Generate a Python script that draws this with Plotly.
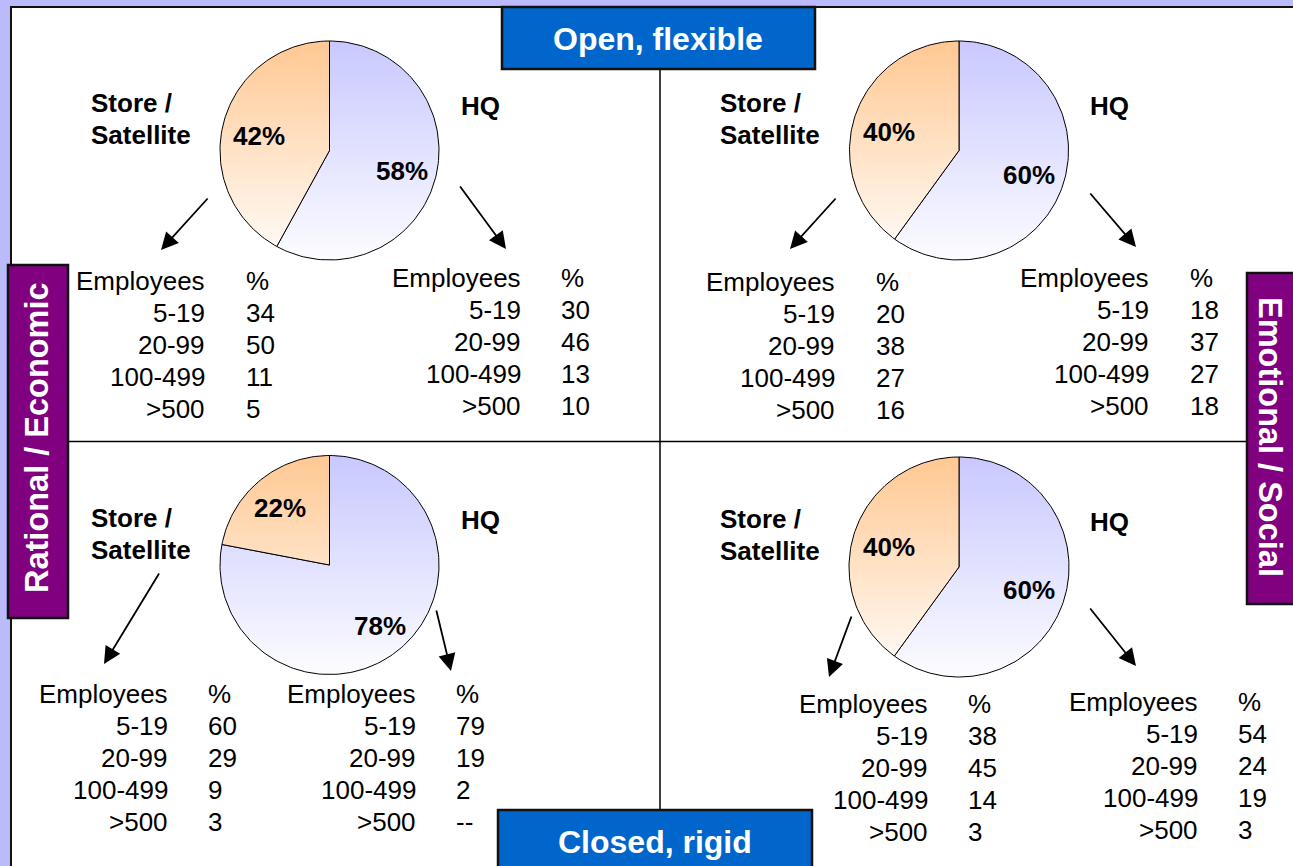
import numpy as np
import plotly.graph_objects as go

W, H = 1293, 866
FONT = "Liberation Sans, Arial, sans-serif"

# Share of respondents by location (HQ vs store / satellite) in each quadrant
quadrant_names = ["Open / Rational", "Open / Emotional", "Closed / Rational", "Closed / Emotional"]
hq_share = [58, 60, 78, 60]
store_share = [42, 40, 22, 40]

# Company size bands and % distribution per location
size_bands = ["5-19", "20-99", "100-499", ">500"]
store_tl = [34, 50, 11, 5]
hq_tl = [30, 46, 13, 10]
store_tr = [20, 38, 27, 16]
hq_tr = [18, 37, 27, 18]
store_bl = [60, 29, 9, 3]
hq_bl = [79, 19, 2, "--"]
store_br = [38, 45, 14, 3]
hq_br = [54, 24, 19, 3]

axis_top = "Open, flexible"
axis_bottom = "Closed, rigid"
axis_left = "Rational / Economic"
axis_right = "Emotional / Social"

store_tables = [store_tl, store_tr, store_bl, store_br]
hq_tables = [hq_tl, hq_tr, hq_bl, hq_br]

# Placement of each quadrant's elements (pixel space)
layout_q = [
    dict(c=(329.5, 150.5), r=109.5, lab_store=(-71, -15), lab_hq=(72, 20),
         store_txt=(91, 103), hq_txt=(461, 106),
         arr_store=((209, 197), (161, 250)), arr_hq=((459, 185), (506, 249)),
         tab_store=(204, 246, 281), tab_hq=(520, 561, 278)),
    dict(c=(959, 150.5), r=109.5, lab_store=(-70, -19), lab_hq=(70, 24),
         store_txt=(720, 103), hq_txt=(1090, 106),
         arr_store=((837, 197), (790, 249)), arr_hq=((1089, 192), (1136, 247)),
         tab_store=(834, 876, 282), tab_hq=(1148, 1190, 278)),
    dict(c=(329.5, 565), r=109.5, lab_store=(-50, -57), lab_hq=(50, 61),
         store_txt=(91, 518), hq_txt=(461, 520),
         arr_store=((160, 572), (104, 664)), arr_hq=((436, 609), (451, 671)),
         tab_store=(167, 208, 694), tab_hq=(415, 456, 694)),
    dict(c=(959, 567), r=110, lab_store=(-70, -20), lab_hq=(70, 23),
         store_txt=(720, 519), hq_txt=(1090, 522),
         arr_store=((852, 615), (829, 677)), arr_hq=((1089, 607), (1136, 666)),
         tab_store=(927, 968, 704), tab_hq=(1197, 1238, 702)),
]

ROW = 32
BEARING = 2.5  # glyph side bearing so ink edges land on the column edges
fig = go.Figure()
shapes = []
ann = []


def wedge(cx, cy, r, a0, a1):
    n = max(int(abs(a1 - a0) / (2 * np.pi) * 240), 8)
    t = np.linspace(a0, a1, n)
    xs = np.concatenate([[cx], cx + r * np.sin(t), [cx]])
    ys = np.concatenate([[cy], cy - r * np.cos(t), [cy]])
    return xs, ys


def txt(x, y, s, size=26, bold=False, anchor="left", color="black", angle=0):
    if anchor == "left":
        x -= BEARING
    elif anchor == "right":
        x += BEARING
    ann.append(dict(x=x, y=y, xref="x", yref="y", text=f"<b>{s}</b>" if bold else str(s),
                    showarrow=False, xanchor=anchor, yanchor="middle", textangle=angle,
                    font=dict(family=FONT, size=size, color=color)))


def arrow(tail, tip):
    ann.append(dict(x=tip[0], y=tip[1], ax=tail[0], ay=tail[1], xref="x", yref="y",
                    axref="x", ayref="y", text="", showarrow=True, arrowhead=2,
                    arrowsize=1.9, arrowwidth=1.8, arrowcolor="black",
                    standoff=0, startstandoff=0))


def table(emp_x, pct_x, y0, values):
    txt(emp_x, y0, "Employees", anchor="right")
    txt(pct_x, y0, "%", anchor="left")
    for i, (band, v) in enumerate(zip(size_bands, values)):
        y = y0 + ROW * (i + 1)
        txt(emp_x, y, band, anchor="right")
        txt(pct_x, y, v, anchor="left")


# frame: lavender border with white panel
shapes.append(dict(type="rect", xref="x", yref="y", x0=11, y0=7, x1=W + 20, y1=H + 20,
                   fillcolor="white", line=dict(color="#111111", width=2), layer="below"))
# quadrant divider lines
shapes.append(dict(type="line", xref="x", yref="y", x0=660, y0=69, x1=660, y1=810,
                   line=dict(color="black", width=1.5), layer="below"))
shapes.append(dict(type="line", xref="x", yref="y", x0=68, y0=441.5, x1=1247, y1=441.5,
                   line=dict(color="black", width=1.5), layer="below"))

for q, L in enumerate(layout_q):
    cx, cy = L["c"]
    r = L["r"]
    a_split = 2 * np.pi * hq_share[q] / (hq_share[q] + store_share[q])
    for (a0, a1, top_col, bot_col, name) in [
        (0, a_split, "#C8C8FF", "#FCFCFF", "HQ"),
        (a_split, 2 * np.pi, "#FFC893", "#FFFDFA", "Store / Satellite"),
    ]:
        xs, ys = wedge(cx, cy, r, a0, a1)
        fig.add_trace(go.Scatter(
            x=xs, y=ys, mode="lines", fill="toself", name=name,
            line=dict(color="black", width=1),
            fillgradient=dict(type="vertical", colorscale=[[0, bot_col], [1, top_col]],
                              start=cy + r, stop=cy - r),
            hoverinfo="skip", showlegend=False))
    ls, lh = L["lab_store"], L["lab_hq"]
    txt(cx + ls[0], cy + ls[1], f"{store_share[q]}%", bold=True, anchor="center")
    txt(cx + lh[0], cy + lh[1], f"{hq_share[q]}%", bold=True, anchor="center")
    sx, sy = L["store_txt"]
    txt(sx, sy, "Store /", bold=True)
    txt(sx, sy + 32, "Satellite", bold=True)
    hx, hy = L["hq_txt"]
    txt(hx, hy, "HQ", bold=True)
    arrow(*L["arr_store"])
    arrow(*L["arr_hq"])
    table(*L["tab_store"], store_tables[q])
    table(*L["tab_hq"], hq_tables[q])

# axis label boxes
shapes.append(dict(type="rect", xref="x", yref="y", x0=502, y0=7, x1=815, y1=69,
                   fillcolor="#0066CC", line=dict(color="#111111", width=2.5)))
shapes.append(dict(type="rect", xref="x", yref="y", x0=498, y0=810, x1=812, y1=H + 20,
                   fillcolor="#0066CC", line=dict(color="#111111", width=2.5)))
shapes.append(dict(type="rect", xref="x", yref="y", x0=8, y0=265, x1=68, y1=618,
                   fillcolor="#800080", line=dict(color="#111111", width=2.5)))
shapes.append(dict(type="rect", xref="x", yref="y", x0=1247, y0=273, x1=W + 20, y1=604,
                   fillcolor="#800080", line=dict(color="#111111", width=2.5)))

txt(658, 39, axis_top, size=32, bold=True, anchor="center", color="white")
txt(655, 842, axis_bottom, size=32, bold=True, anchor="center", color="white")
txt(37, 438, axis_left, size=32.5, bold=True, anchor="center", color="white", angle=-90)
txt(1270, 437, axis_right, size=32.5, bold=True, anchor="center", color="white", angle=90)

fig.update_layout(
    width=W, height=H, margin=dict(l=0, r=0, t=0, b=0),
    paper_bgcolor="#BABAFC", plot_bgcolor="#BABAFC",
    xaxis=dict(range=[0, W], visible=False, fixedrange=True),
    yaxis=dict(range=[H, 0], visible=False, fixedrange=True),
    shapes=shapes, annotations=ann, showlegend=False,
)

fig.write_html("out.html", config={"displayModeBar": False})
